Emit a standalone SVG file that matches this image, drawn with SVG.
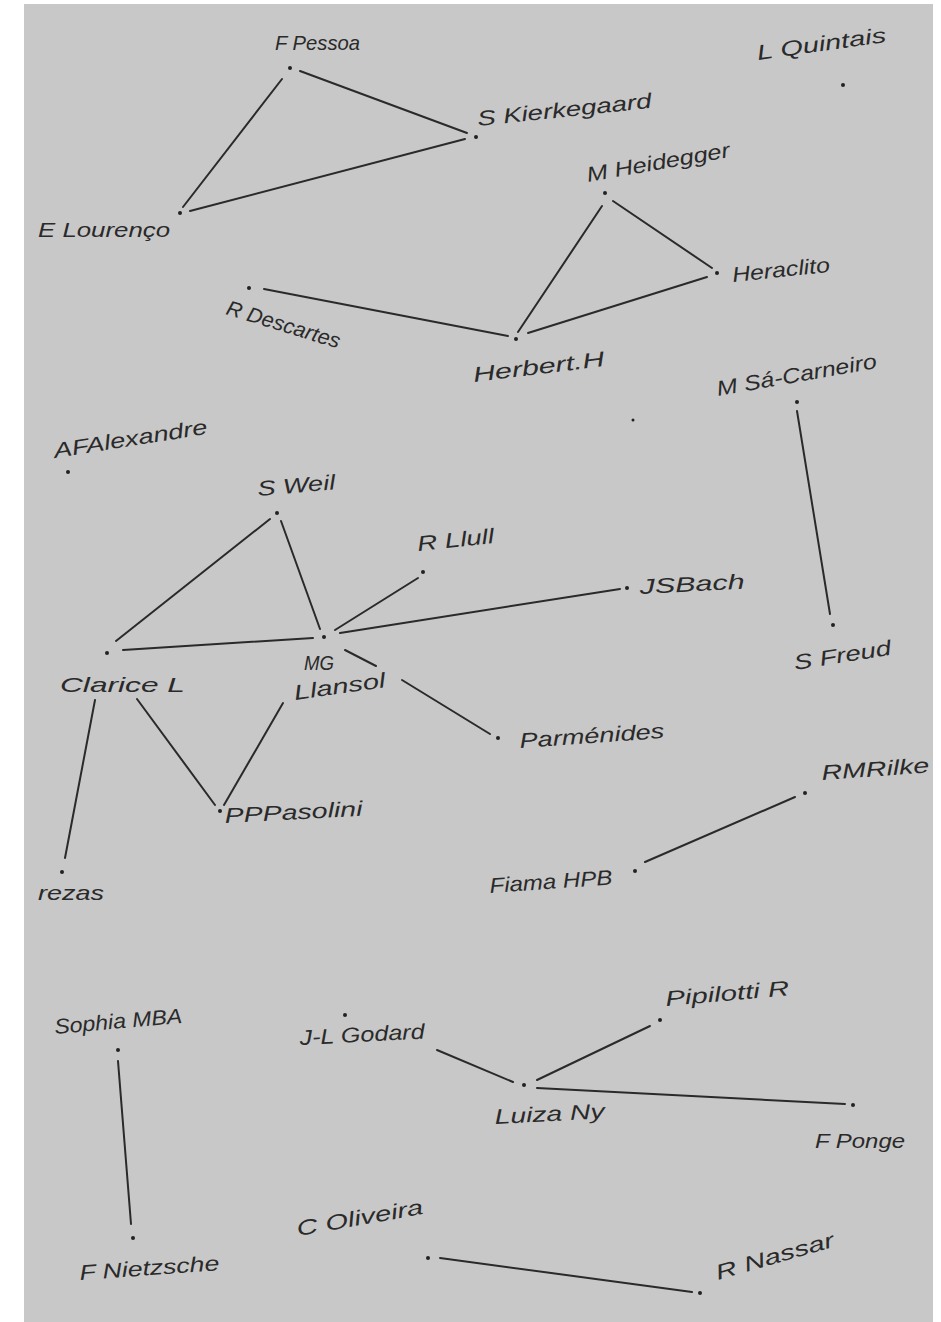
<svg xmlns="http://www.w3.org/2000/svg" width="941" height="1322" viewBox="0 0 941 1322">
<style>
.lbl{font-family:"Liberation Sans",Arial,sans-serif;font-style:italic;font-size:21px;fill:#2a2a2a}
.dot{fill:#222}
#edges line{stroke:#2a2a2a;stroke-width:2;stroke-linecap:round}
</style>
<rect x="0" y="0" width="941" height="1322" fill="#ffffff"/>
<rect x="24" y="4" width="909" height="1318" fill="#c8c8c8"/>
<g id="edges">
<line x1="300" y1="71" x2="467" y2="133"/>
<line x1="282" y1="79" x2="183" y2="207"/>
<line x1="190" y1="211" x2="465" y2="139"/>
<line x1="613" y1="201" x2="712" y2="268"/>
<line x1="602" y1="206" x2="518" y2="332"/>
<line x1="707" y1="277" x2="528" y2="333"/>
<line x1="264" y1="289" x2="508" y2="336"/>
<line x1="797" y1="411" x2="830" y2="614"/>
<line x1="270" y1="519" x2="116" y2="641"/>
<line x1="281" y1="521" x2="320" y2="629"/>
<line x1="418" y1="578" x2="335" y2="630"/>
<line x1="620" y1="589" x2="340" y2="633"/>
<line x1="123" y1="650" x2="313" y2="638"/>
<line x1="345" y1="650" x2="376" y2="666"/>
<line x1="402" y1="680" x2="490" y2="734"/>
<line x1="95" y1="700" x2="65" y2="858"/>
<line x1="137" y1="699" x2="215" y2="805"/>
<line x1="283" y1="703" x2="224" y2="805"/>
<line x1="795" y1="797" x2="645" y2="862"/>
<line x1="437" y1="1050" x2="513" y2="1082"/>
<line x1="650" y1="1026" x2="537" y2="1080"/>
<line x1="537" y1="1088" x2="845" y2="1104"/>
<line x1="118" y1="1061" x2="131" y2="1224"/>
<line x1="440" y1="1258" x2="692" y2="1292"/>
</g>
<g id="n-pessoa"><circle class="dot" cx="290" cy="68" r="2"/><text class="lbl" x="275" y="50" textLength="85" lengthAdjust="spacingAndGlyphs">F Pessoa</text></g>
<g id="n-kierkegaard"><circle class="dot" cx="476" cy="137" r="2"/><text class="lbl" x="478" y="126" textLength="175" lengthAdjust="spacingAndGlyphs" transform="rotate(-6 478 126)">S Kierkegaard</text></g>
<g id="n-quintais"><circle class="dot" cx="843" cy="85" r="2"/><text class="lbl" x="758" y="60" textLength="130" lengthAdjust="spacingAndGlyphs" transform="rotate(-8 758 60)">L Quintais</text></g>
<g id="n-lourenco"><circle class="dot" cx="180" cy="213" r="2"/><text class="lbl" x="38" y="237" textLength="132" lengthAdjust="spacingAndGlyphs">E Lourenço</text></g>
<g id="n-heidegger"><circle class="dot" cx="605" cy="193" r="2"/><text class="lbl" x="588" y="182" textLength="145" lengthAdjust="spacingAndGlyphs" transform="rotate(-10 588 182)">M Heidegger</text></g>
<g id="n-heraclito"><circle class="dot" cx="717" cy="273" r="2"/><text class="lbl" x="733" y="282" textLength="98" lengthAdjust="spacingAndGlyphs" transform="rotate(-6 733 282)">Heraclito</text></g>
<g id="n-descartes"><circle class="dot" cx="249" cy="288" r="2"/><text class="lbl" x="225" y="314" textLength="118" lengthAdjust="spacingAndGlyphs" transform="rotate(17 225 314)">R Descartes</text></g>
<g id="n-herbert"><circle class="dot" cx="516" cy="339" r="2"/><text class="lbl" x="474" y="382" textLength="132" lengthAdjust="spacingAndGlyphs" transform="rotate(-7 474 382)">Herbert.H</text></g>
<g id="n-stray"><circle class="dot" cx="633" cy="420" r="1.5"/></g>
<g id="n-sacarneiro"><circle class="dot" cx="797" cy="402" r="2"/><text class="lbl" x="718" y="396" textLength="162" lengthAdjust="spacingAndGlyphs" transform="rotate(-10 718 396)">M Sá-Carneiro</text></g>
<g id="n-alexandre"><circle class="dot" cx="68" cy="472" r="2"/><text class="lbl" x="55" y="458" textLength="155" lengthAdjust="spacingAndGlyphs" transform="rotate(-9 55 458)">AFAlexandre</text></g>
<g id="n-weil"><circle class="dot" cx="277" cy="513" r="2"/><text class="lbl" x="258" y="496" textLength="78" lengthAdjust="spacingAndGlyphs" transform="rotate(-5 258 496)">S Weil</text></g>
<g id="n-llull"><circle class="dot" cx="423" cy="572" r="2"/><text class="lbl" x="418" y="551" textLength="77" lengthAdjust="spacingAndGlyphs" transform="rotate(-6 418 551)">R Llull</text></g>
<g id="n-bach"><circle class="dot" cx="627" cy="588" r="2"/><text class="lbl" x="640" y="594" textLength="105" lengthAdjust="spacingAndGlyphs" transform="rotate(-3 640 594)">JSBach</text></g>
<g id="n-freud"><circle class="dot" cx="833" cy="625" r="2"/><text class="lbl" x="795" y="670" textLength="98" lengthAdjust="spacingAndGlyphs" transform="rotate(-9 795 670)">S Freud</text></g>
<g id="n-llansol"><circle class="dot" cx="324" cy="637" r="2"/><text class="lbl" x="304" y="670" textLength="30" lengthAdjust="spacingAndGlyphs">MG</text><text class="lbl" x="295" y="700" textLength="92" lengthAdjust="spacingAndGlyphs" transform="rotate(-8 295 700)">Llansol</text></g>
<g id="n-clarice"><circle class="dot" cx="107" cy="653" r="2"/><text class="lbl" x="60" y="692" textLength="125" lengthAdjust="spacingAndGlyphs">Clarice L</text></g>
<g id="n-parmenides"><circle class="dot" cx="498" cy="738" r="2"/><text class="lbl" x="520" y="748" textLength="145" lengthAdjust="spacingAndGlyphs" transform="rotate(-4 520 748)">Parménides</text></g>
<g id="n-pasolini"><circle class="dot" cx="220" cy="811" r="2"/><text class="lbl" x="225" y="823" textLength="138" lengthAdjust="spacingAndGlyphs" transform="rotate(-3 225 823)">PPPasolini</text></g>
<g id="n-rezas"><circle class="dot" cx="62" cy="872" r="2"/><text class="lbl" x="38" y="900" textLength="66" lengthAdjust="spacingAndGlyphs">rezas</text></g>
<g id="n-rilke"><circle class="dot" cx="805" cy="793" r="2"/><text class="lbl" x="822" y="780" textLength="108" lengthAdjust="spacingAndGlyphs" transform="rotate(-4 822 780)">RMRilke</text></g>
<g id="n-fiama"><circle class="dot" cx="635" cy="871" r="2"/><text class="lbl" x="490" y="893" textLength="123" lengthAdjust="spacingAndGlyphs" transform="rotate(-4 490 893)">Fiama HPB</text></g>
<g id="n-sophia"><circle class="dot" cx="118" cy="1050" r="2"/><text class="lbl" x="55" y="1034" textLength="128" lengthAdjust="spacingAndGlyphs" transform="rotate(-5 55 1034)">Sophia MBA</text></g>
<g id="n-godard"><circle class="dot" cx="345" cy="1015" r="2"/><text class="lbl" x="300" y="1045" textLength="125" lengthAdjust="spacingAndGlyphs" transform="rotate(-3 300 1045)">J-L Godard</text></g>
<g id="n-pipilotti"><circle class="dot" cx="660" cy="1020" r="2"/><text class="lbl" x="666" y="1006" textLength="124" lengthAdjust="spacingAndGlyphs" transform="rotate(-5 666 1006)">Pipilotti R</text></g>
<g id="n-luiza"><circle class="dot" cx="524" cy="1085" r="2"/><text class="lbl" x="495" y="1124" textLength="110" lengthAdjust="spacingAndGlyphs" transform="rotate(-3 495 1124)">Luiza Ny</text></g>
<g id="n-ponge"><circle class="dot" cx="853" cy="1105" r="2"/><text class="lbl" x="815" y="1148" textLength="90" lengthAdjust="spacingAndGlyphs">F Ponge</text></g>
<g id="n-nietzsche"><circle class="dot" cx="133" cy="1238" r="2"/><text class="lbl" x="80" y="1280" textLength="140" lengthAdjust="spacingAndGlyphs" transform="rotate(-4 80 1280)">F Nietzsche</text></g>
<g id="n-oliveira"><circle class="dot" cx="428" cy="1258" r="2"/><text class="lbl" x="298" y="1236" textLength="128" lengthAdjust="spacingAndGlyphs" transform="rotate(-10 298 1236)">C Oliveira</text></g>
<g id="n-nassar"><circle class="dot" cx="700" cy="1293" r="2"/><text class="lbl" x="718" y="1280" textLength="122" lengthAdjust="spacingAndGlyphs" transform="rotate(-16 718 1280)">R Nassar</text></g>
</svg>
